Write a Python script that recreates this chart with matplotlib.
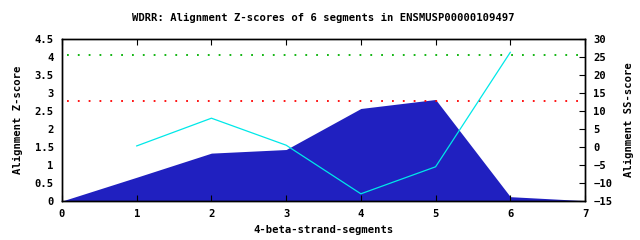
import matplotlib
matplotlib.use("Agg")
import matplotlib.pyplot as plt

title = "WDRR: Alignment Z-scores of 6 segments in ENSMUSP00000109497"
area_x = [0, 1, 2, 3, 4, 5, 6, 7]
area_z = [0.0, 0.66, 1.33, 1.43, 2.57, 2.82, 0.12, 0.01]
ss_x = [1, 2, 3, 4, 5, 6]
ss_y = [0.3, 8.0, 0.5, -13.0, -5.5, 26.3]
green_level = 4.05
red_level = 2.79

plt.rcParams['font.family'] = ['DejaVu Sans Mono']
plt.rcParams['font.weight'] = 'bold'
fs = 7.6

fig = plt.figure(figsize=(6.4, 2.4), dpi=100)
ax = fig.add_axes([62/640, 1-201/240, (585-62)/640, (201-39)/240])
ax.fill_between(area_x, area_z, 0, color='#2020c0', linewidth=0, zorder=1)
ax.axhline(green_level, color='#00b000', linestyle=(0, (1, 5)), linewidth=1.3, xmin=0.01, xmax=0.99, zorder=3)
ax.axhline(red_level, color='#ff0000', linestyle=(0, (1, 5)), linewidth=1.3, xmin=0.01, xmax=0.99, zorder=3)
ax.set_xlim(0, 7)
ax.set_ylim(0, 4.5)
ax.set_xticks(range(0, 8))
ax.set_yticks([0, 0.5, 1, 1.5, 2, 2.5, 3, 3.5, 4, 4.5])
ax.set_yticklabels(['0', '0.5', '1', '1.5', '2', '2.5', '3', '3.5', '4', '4.5'])
ax.tick_params(axis='x', direction='in', top=True, length=4, labelsize=fs, pad=6)
ax.tick_params(axis='y', direction='in', length=0, labelsize=fs, pad=6)
ax.set_xlabel('4-beta-strand-segments', fontsize=fs, fontweight='bold', labelpad=4)
ax.set_ylabel('Alignment Z-score', fontsize=fs, fontweight='bold', labelpad=8)
ax.set_title(title, fontsize=fs, fontweight='bold', pad=13)

ax2 = ax.twinx()
ax2.plot(ss_x, ss_y, color='#00e8e8', linewidth=0.9, zorder=4)
ax2.set_ylim(-15, 30)
ax2.set_yticks(range(-15, 31, 5))
ax2.tick_params(axis='y', direction='in', length=4, labelsize=fs, pad=6)
ax2.set_ylabel('Alignment SS-score', fontsize=fs, fontweight='bold', labelpad=8, rotation=90)
for a in (ax, ax2):
    for s in a.spines.values():
        s.set_linewidth(1)
fig.savefig('out.png', dpi=100)
